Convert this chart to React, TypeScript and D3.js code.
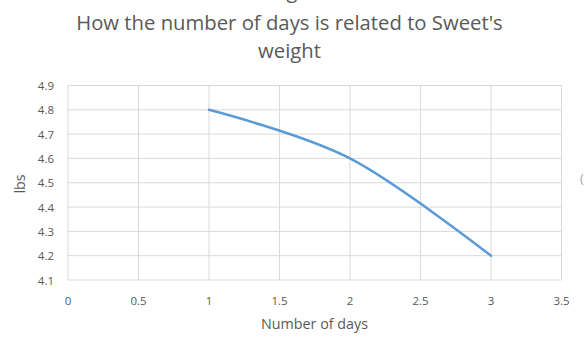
import React from "react";
import * as d3 from "d3";

const days = [1, 2, 3];
const weights = [4.8, 4.6, 4.2];
const xTicks = [0, 0.5, 1, 1.5, 2, 2.5, 3, 3.5];
const yTicks = [4.1, 4.2, 4.3, 4.4, 4.5, 4.6, 4.7, 4.8, 4.9];
const titleLines = ["How the number of days is related to Sweet's", "weight"];

export default function App() {
  const W = 585, H = 346;
  const x = d3.scaleLinear().domain([0, 3.5]).range([68, 561.5]);
  const y = d3.scaleLinear().domain([4.1, 4.9]).range([280, 85.5]);
  const pts: [number, number][] = days.map((d, i) => [x(d), y(weights[i])]);
  const line = d3.line().curve(d3.curveCatmullRom.alpha(0))(pts) || "";
  const font = "Open Sans, sans-serif";
  const grey = "#595959";
  return (
    <svg width={W} height={H} style={{ position: "absolute", left: 0, top: 0, background: "#fff" }}>
      <text x={292} y={-2} fontSize={20} fill={grey} fontFamily={font} textAnchor="middle">g</text>
      {titleLines.map((t, i) => (
        <text key={i} x={289.5} y={30 + i * 27.7} fontSize={20.3} fill={grey} fontFamily={font} textAnchor="middle">{t}</text>
      ))}
      {xTicks.map((t) => (
        <line key={"gx" + t} x1={x(t)} x2={x(t)} y1={y(4.9)} y2={y(4.1)} stroke="#d9d9d9" strokeWidth={1} />
      ))}
      {yTicks.map((t) => (
        <line key={"gy" + t} x1={x(0)} x2={x(3.5)} y1={y(t)} y2={y(t)} stroke="#d9d9d9" strokeWidth={1} />
      ))}
      <path d={line} fill="none" stroke="#5b9bd5" strokeWidth={2.5} strokeLinecap="round" />
      {yTicks.map((t) => (
        <text key={"ly" + t} x={54} y={y(t) + 4.5} fontSize={11.5} fill={grey} fontFamily={font} textAnchor="end">{t.toFixed(1)}</text>
      ))}
      {xTicks.map((t) => (
        <text key={"lx" + t} x={x(t)} y={304.5} fontSize={11.5} fill={grey} fontFamily={font} textAnchor="middle">{String(t)}</text>
      ))}
      <text x={314.5} y={329} fontSize={14.3} fill={grey} fontFamily={font} textAnchor="middle">Number of days</text>
      <text transform={`translate(24.5,184) rotate(-90)`} fontSize={14.3} fill={grey} fontFamily={font} textAnchor="middle">lbs</text>
      <text x={580} y={183} fontSize={13} fill="#a6a6a6" fontFamily={font}>(</text>
    </svg>
  );
}
